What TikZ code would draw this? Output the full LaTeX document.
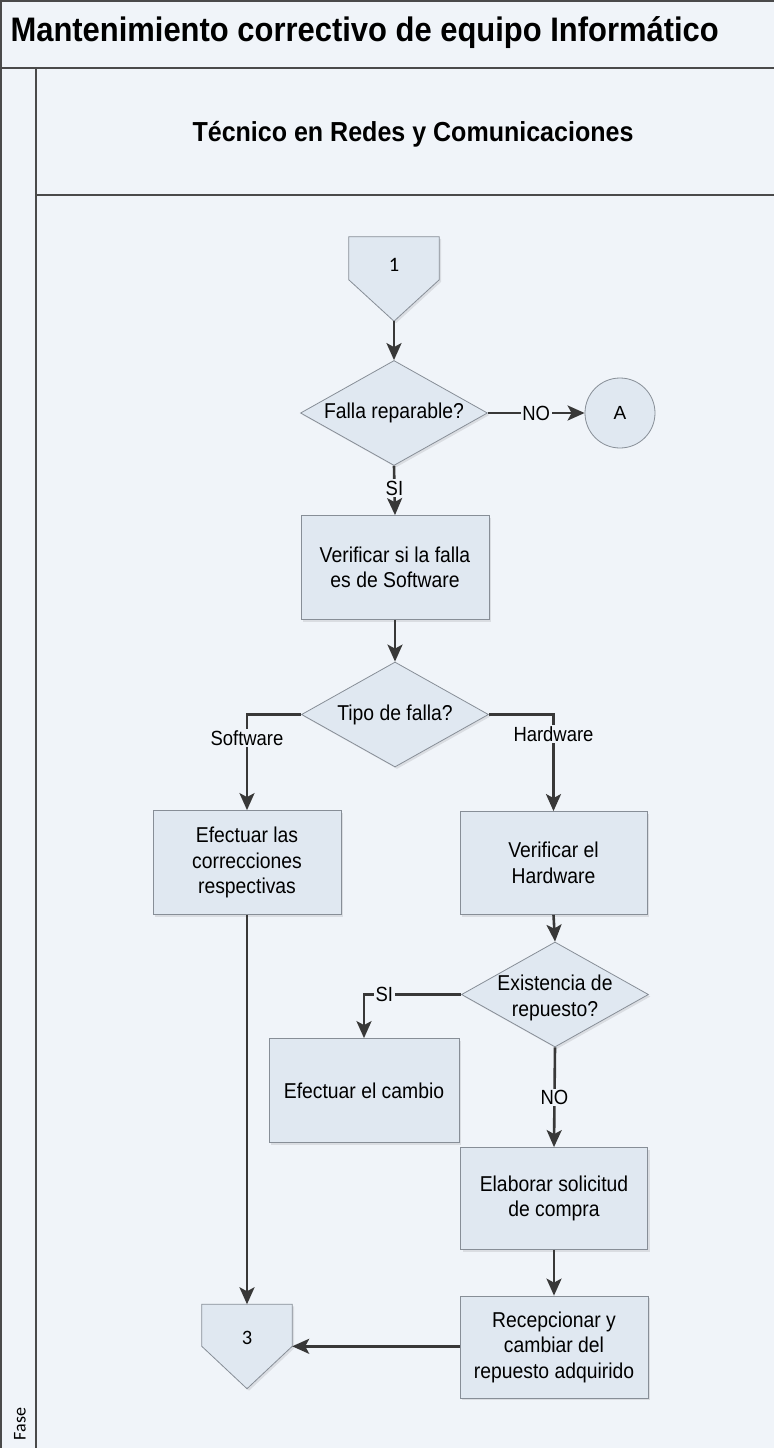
\documentclass[tikz,border=0pt]{standalone}
\usepackage{fontspec}
\setmainfont{Liberation Sans}
\newfontfamily\bodyfont{Liberation Sans}[FakeStretch=0.9]
\newfontfamily\headfont{Liberation Sans}[FakeStretch=0.91]
\newfontfamily\calfont{Carlito}
\usetikzlibrary{arrows.meta,shapes.geometric,shadows,calc}

\definecolor{paper}{HTML}{F0F4F9}
\definecolor{shapefill}{HTML}{E0E8F1}
\definecolor{shapeline}{HTML}{878E97}
\definecolor{flow}{HTML}{383838}
\definecolor{frameline}{HTML}{4A4A4A}

\begin{document}
\begin{tikzpicture}[x=1pt,y=-1pt,
  softshadow/.style={drop shadow={shadow xshift=2pt,shadow yshift=-2pt,fill=black,opacity=0.09}},
  proc/.style={draw=shapeline,line width=0.8pt,fill=shapefill,softshadow,
    minimum width=188pt,minimum height=104pt,inner sep=2pt,align=center,
    font=\bodyfont\fontsize{21.5}{25.5}\selectfont},
  decision/.style={diamond,draw=shapeline,line width=0.8pt,fill=shapefill,softshadow,
    minimum width=187pt,minimum height=105pt,inner sep=0pt,aspect=1.78},
  dtext/.style={font=\bodyfont\fontsize{21.5}{26}\selectfont,align=center},
  connbox/.style={draw=none,minimum width=90pt,minimum height=84pt,inner sep=0pt},
  connshape/.style={draw=shapeline,line width=0.8pt,fill=shapefill,softshadow},
  conntext/.style={font=\calfont\fontsize{20.5}{22}\selectfont},
  flowline/.style={draw=flow,line width=2.6pt,-{Stealth[length=17pt,width=15pt,inset=4pt]}},
  lbl/.style={font=\bodyfont\fontsize{20.5}{24}\selectfont,fill=paper,inner sep=1.5pt},
  frame/.style={draw=frameline,line width=1.6pt}
]
% page and swimlane frame
\fill[paper] (0,0) rectangle (774,1448);
\useasboundingbox (0,0) rectangle (774,1448);
\draw[frame] (0,1) -- (774,1);
\draw[frame] (1,0) -- (1,1448);
\draw[frame] (0,68) -- (774,68);
\draw[frame] (36,68) -- (36,1448);
\draw[frame] (36,195) -- (774,195);

\node[anchor=base west,font=\headfont\bfseries\fontsize{34}{38}\selectfont] (title) at (7,41)
  {Mantenimiento correctivo de equipo Informático};
\node[font=\headfont\bfseries\fontsize{27.5}{32}\selectfont] (lane) at (413,134)
  {Técnico en Redes y Comunicaciones};
\node[rotate=90,font=\calfont\fontsize{18}{20}\selectfont] (phase) at (20,1424) {Fase};

% off-page connectors
\node[connbox] (c1) at (394,279) {};
\path[connshape] (c1.north west) -- (c1.north east) -- ($(c1.north east)+(0,43)$)
  -- (c1.south) -- ($(c1.north west)+(0,43)$) -- cycle;
\node[conntext] (c1t) at ($(c1)+(0,-14)$) {1};
\node[connbox] (c3) at (247,1346.5) {};
\path[connshape] (c3.north west) -- (c3.north east) -- ($(c3.north east)+(0,42)$)
  -- (c3.south) -- ($(c3.north west)+(0,42)$) -- cycle;
\node[conntext] (c3t) at ($(c3)+(0,-9)$) {3};
\coordinate (c3in) at ($(c3.north east)+(0,42)$);

% decisions
\node[decision,label={[dtext]center:Falla reparable?}] (d1) at (394,413) {};
\node[decision,label={[dtext]center:Tipo de falla?}] (d2) at (395,714.5) {};
\node[decision,label={[dtext,yshift=-3pt]center:Existencia de\\repuesto?}] (d3) at (555,994.5) {};

% on-page connector
\node[circle,draw=shapeline,line width=0.8pt,fill=shapefill,minimum size=70pt,inner sep=0pt,
  font=\fontsize{19}{22}\selectfont] (A) at (620,413) {A};

% processes
\node[proc] (b1) at (395,567.5) {Verificar si la falla\\es de Software};
\node[proc] (b2) at (247,862.5) {Efectuar las\\correcciones\\respectivas};
\node[proc,minimum width=187pt,minimum height=103pt] (b3) at (553.5,863) {Verificar el\\Hardware};
\node[proc,minimum width=190pt] (b4) at (364,1090.5) {Efectuar el cambio};
\node[proc,minimum width=187pt,minimum height=102pt] (b5) at (554,1198.5) {Elaborar solicitud\\de compra};
\node[proc,minimum height=102pt] (b6) at (554,1347) {Recepcionar y\\cambiar del\\repuesto adquirido};

% connectors
\draw[flowline] (c1.south) -- (d1.north);
\draw[flowline] (d1.east) -- node[lbl] {NO} (A.west);
\draw[flowline] (d1.south) -- node[lbl,pos=0.45] {SI} (b1.north);
\draw[flowline] (b1.south) -- (d2.north);
\draw[flowline] (d2.west) -| node[lbl,pos=0.625] {Software} (b2.north);
\draw[flowline] (d2.east) -| node[lbl,pos=0.6] {Hardware} (b3.north);
\draw[flowline] (b3.south) -- (d3.north);
\draw[flowline] (d3.west) -| node[lbl,pos=0.395] {SI} (b4.north);
\draw[flowline] (d3.south) -- node[lbl] {NO} (b5.north);
\draw[flowline] (b5.south) -- (b6.north);
\draw[flowline] (b6.west |- c3in) -- (c3in);
\draw[flowline] (b2.south) -- (c3.north);
\end{tikzpicture}
\end{document}
